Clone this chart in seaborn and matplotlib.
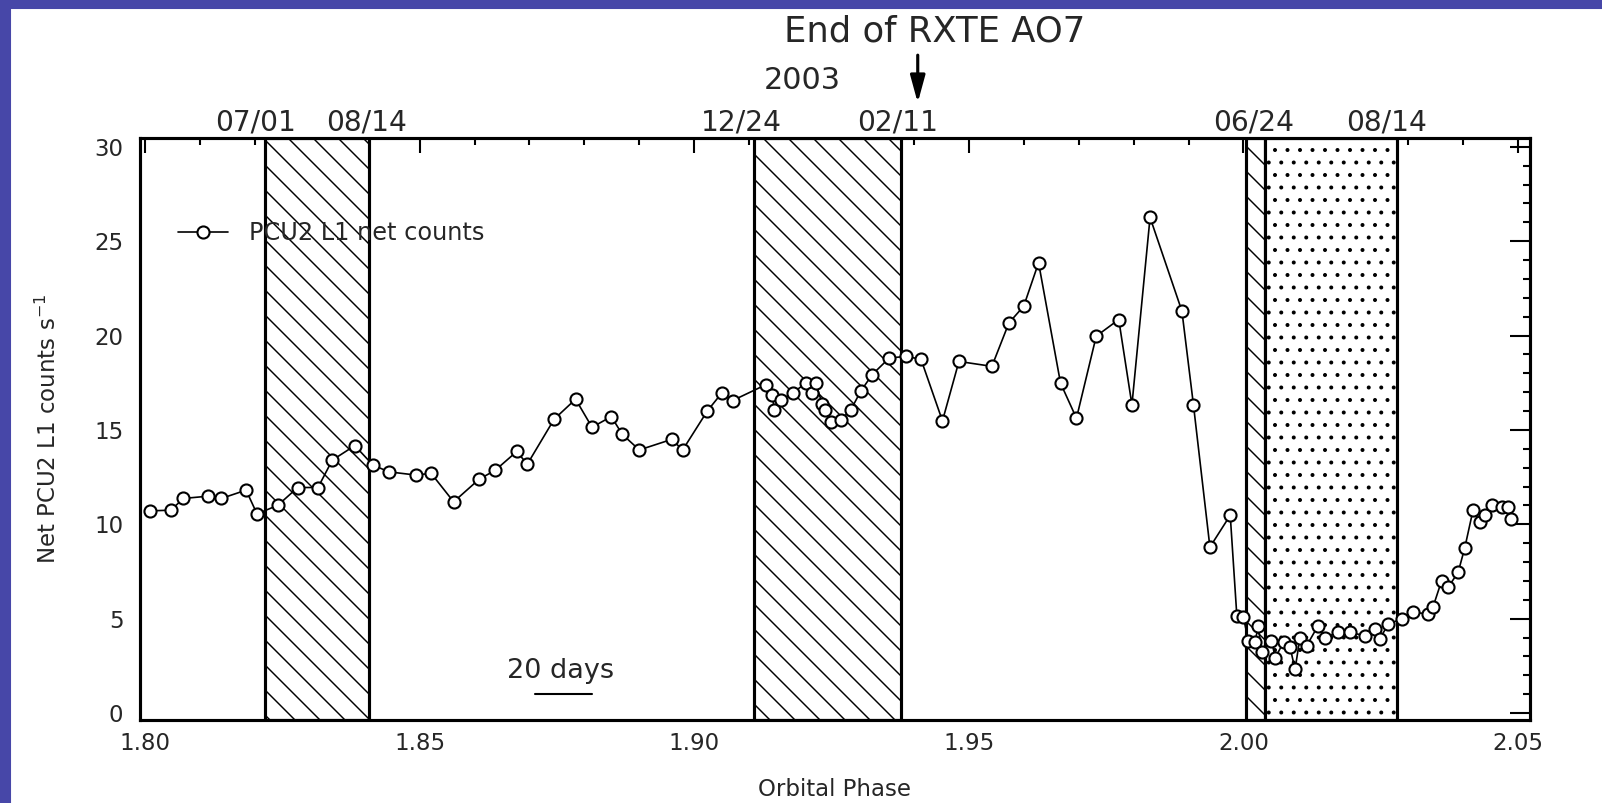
import numpy as np
import pandas as pd
import seaborn as sns
import matplotlib
matplotlib.use("Agg")
import matplotlib.pyplot as plt
from matplotlib.patches import Rectangle
from matplotlib.ticker import MultipleLocator, FormatStrFormatter

# orbital phase / net counts
phase = [1.8009, 1.8047, 1.8070, 1.8115, 1.8139, 1.8184, 1.8204, 1.8242, 1.8278, 1.8315,
         1.8341, 1.8382, 1.8415, 1.8444, 1.8493, 1.8521, 1.8562, 1.8608, 1.8638, 1.8677,
         1.8696, 1.8745, 1.8784, 1.8814, 1.8849, 1.8869, 1.8900, 1.8959, 1.8979, 1.9024,
         1.9050, 1.9070, 1.9130, 1.9142, 1.9146, 1.9158, 1.9179, 1.9203, 1.9215, 1.9221,
         1.9233, 1.9239, 1.9249, 1.9267, 1.9285, 1.9303, 1.9324, 1.9355, 1.9386, 1.9413,
         1.9452, 1.9482, 1.9542, 1.9573, 1.9600, 1.9627, 1.9667, 1.9696, 1.9732, 1.9773,
         1.9797, 1.9830, 1.9888, 1.9909, 1.9939, 1.9976, 1.9988, 2.0000, 2.0009, 2.0021,
         2.0027, 2.0033, 2.0051, 2.0058, 2.0073, 2.0085, 2.0094, 2.0103, 2.0115, 2.0136,
         2.0148, 2.0173, 2.0194, 2.0221, 2.0239, 2.0248, 2.0264, 2.0288, 2.0309, 2.0336,
         2.0345, 2.0361, 2.0373, 2.0391, 2.0403, 2.0418, 2.0430, 2.0439, 2.0452, 2.0470,
         2.0482, 2.0488]
counts = [10.71, 10.75, 11.37, 11.49, 11.37, 11.81, 10.55, 11.01, 11.95, 11.95,
          13.40, 14.17, 13.14, 12.78, 12.61, 12.70, 11.19, 12.38, 12.87, 13.86,
          13.18, 15.57, 16.63, 15.14, 15.71, 14.77, 13.94, 14.50, 13.94, 16.01,
          16.95, 16.56, 17.39, 16.86, 16.06, 16.60, 16.95, 17.48, 16.96, 17.48,
          16.40, 16.06, 15.44, 15.53, 16.06, 17.04, 17.93, 18.81, 18.90, 18.74,
          15.48, 18.63, 18.37, 20.67, 21.56, 23.86, 17.48, 15.62, 19.97, 20.85,
          16.33, 26.26, 21.30, 16.33, 8.79, 10.48, 5.16, 5.07, 3.83, 3.74,
          4.63, 3.21, 3.83, 2.94, 3.74, 3.48, 2.31, 4.00, 3.56, 4.63,
          4.00, 4.27, 4.27, 4.10, 4.45, 3.92, 4.72, 4.98, 5.34, 5.25,
          5.60, 7.02, 6.67, 7.46, 8.75, 10.74, 10.12, 10.48, 11.01, 10.92,
          10.92, 10.30]

# shaded intervals (phase start, phase end, hatch)
span_start = [1.8219, 1.9109, 2.0005, 2.0040]
span_end = [1.8407, 1.9377, 2.0040, 2.0280]
span_hatch = ["\\\\", "\\\\", "\\\\", ".."]

# date labels above the frame
date_labels = ["07/01", "08/14", "12/24", "02/11", "06/24", "08/14"]
date_pos = [1.8202, 1.8404, 1.9085, 1.9371, 2.0019, 2.0260]

year_label = "2003"
year_pos = 1.9196
ao_label = "End of RXTE AO7"
ao_text_pos = 1.9438
ao_arrow_pos = 1.9407

scale_label = "20 days"
scale_start, scale_end, scale_y = 1.8710, 1.8814, 1.0
scale_text_x, scale_text_y = 1.8757, 2.2

df = pd.DataFrame({"phase": phase, "counts": counts})

sns.set_style("white")
plt.rcParams["font.family"] = ["DejaVu Sans"]
plt.rcParams["hatch.linewidth"] = 0.7
plt.rcParams["hatch.color"] = "black"

fig = plt.figure(figsize=(1602 / 150, 803 / 150), dpi=150)
fig.patch.set_facecolor("white")
ax = fig.add_axes([140 / 1602, 1 - 720 / 803, 1390 / 1602, 582 / 803])

for x0, x1, h in zip(span_start, span_end, span_hatch):
    ax.axvspan(x0, x1, facecolor="white", edgecolor="black", hatch=h, lw=1.5, zorder=1)

sns.lineplot(data=df, x="phase", y="counts", ax=ax, sort=False, estimator=None,
             color="black", lw=0.8, marker="o", ms=5.8, mfc="white", mec="black",
             mew=1.0, label="PCU2 L1 net counts", zorder=3)

ax.set_xlim(1.79909, 2.05218)
ax.set_ylim(-0.37, 30.47)

ax.xaxis.set_major_locator(MultipleLocator(0.05))
ax.xaxis.set_minor_locator(MultipleLocator(0.01))
ax.yaxis.set_major_locator(MultipleLocator(5))
ax.yaxis.set_minor_locator(MultipleLocator(1))
ax.xaxis.set_major_formatter(FormatStrFormatter("%.2f"))
ax.yaxis.set_major_formatter(FormatStrFormatter("%d"))

ax.tick_params(which="both", direction="in", top=True, right=True, width=1.0,
               color="black", labelsize=11)
ax.tick_params(axis="x", which="major", length=7.2, pad=6)
ax.tick_params(axis="y", which="major", length=9.6, pad=8)
ax.tick_params(which="minor", length=3.4)

for s in ax.spines.values():
    s.set_linewidth(1.5)
    s.set_color("black")

ax.set_xlabel("Orbital Phase", fontsize=11)
ax.xaxis.set_label_coords(0.5, -0.10)
ax.set_ylabel("Net PCU2 L1 counts s$^{-1}$", fontsize=11)
ax.yaxis.set_label_coords(-0.057, 0.5)

ax.legend(loc="center left", bbox_to_anchor=(0.0273, 0.8368), frameon=False,
          fontsize=11.5, handlelength=2.1, handletextpad=0.85, borderpad=0,
          borderaxespad=0)

trans = ax.get_xaxis_transform()
for lab, xp in zip(date_labels, date_pos):
    ax.text(xp, 1.0258, lab, transform=trans, ha="center", va="center", fontsize=13.5)
ax.text(year_pos, 1.098, year_label, transform=trans, ha="center", va="center", fontsize=14.5)
ax.text(ao_text_pos, 1.1838, ao_label, transform=trans, ha="center", va="center", fontsize=17)
ax.annotate("", xy=(ao_arrow_pos, 1.0533), xytext=(ao_arrow_pos, 1.1495),
            xycoords=trans, textcoords=trans,
            arrowprops=dict(arrowstyle="-|>,head_length=1.1,head_width=0.3",
                            color="black", lw=1.5, mutation_scale=10))

ax.plot([scale_start, scale_end], [scale_y, scale_y], color="black", lw=1.0)
ax.text(scale_text_x, scale_text_y, scale_label, ha="center", va="center", fontsize=13)

# blue slide border
fig.add_artist(Rectangle((0, 0), 10 / 1602, 1, transform=fig.transFigure,
                         color="#4747a8", zorder=10))
fig.add_artist(Rectangle((0, 1 - 8 / 803), 1, 8 / 803, transform=fig.transFigure,
                         color="#4747a8", zorder=10))

fig.savefig("out.png", dpi=150)
